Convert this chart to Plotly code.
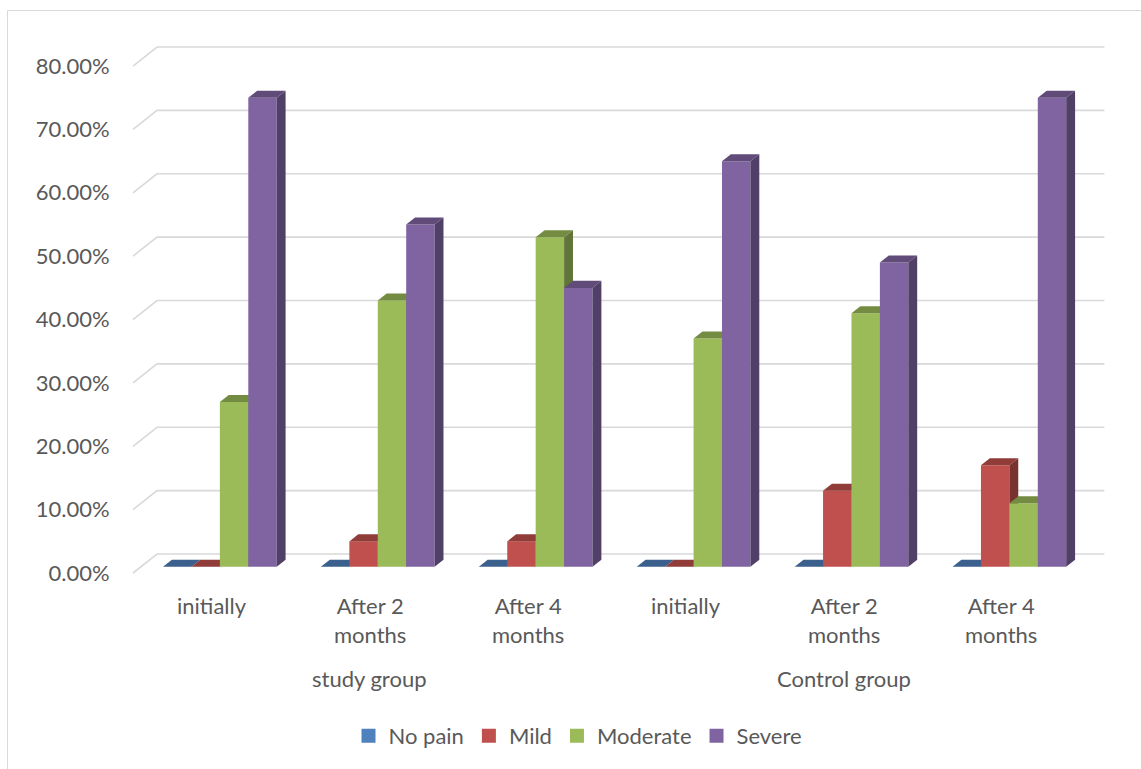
import plotly.graph_objects as go

# ---- data -------------------------------------------------------------
categories = ["initially", "After 2<br>months", "After 4<br>months",
              "initially", "After 2<br>months", "After 4<br>months"]
groups = ["study group", "Control group"]
group_centers = [1, 4]          # category index under which each group label sits
series_names = ["No pain", "Mild", "Moderate", "Severe"]
no_pain = [0, 0, 0, 0, 0, 0]
mild = [0, 4, 4, 0, 12, 16]
moderate = [26, 42, 52, 36, 40, 10]
severe = [74, 54, 44, 64, 48, 74]
series_values = [no_pain, mild, moderate, severe]
colors = ["#4F81BD", "#C0504D", "#9BBB59", "#8064A2"]
y_ticks = [0, 10, 20, 30, 40, 50, 60, 70, 80]
y_tick_labels = ["%.2f%%" % v for v in y_ticks]

# ---- page geometry ----------------------------------------------------
W, H = 1141, 769
ML, MR, MT, MB = 120, 30, 38, 180
ORIGIN_X, ORIGIN_Y = 133, 573        # front-left corner of the floor (px)
PX_PER_CAT = 157.9
PX_PER_PCT = 6.337
DEPTH_X = 24 / PX_PER_CAT            # oblique depth offset in category units
DEPTH_Y = 19 / PX_PER_PCT            # oblique depth offset in % units
BAR_W = 0.18
BAR_FRONT, BAR_BACK = 0.33, 0.70     # depth fractions occupied by the bars

x_range = [(ML - ORIGIN_X) / PX_PER_CAT, (W - MR - ORIGIN_X) / PX_PER_CAT]
y_range = [-((H - MB) - ORIGIN_Y) / PX_PER_PCT, (ORIGIN_Y - MT) / PX_PER_PCT]
plot_w = W - ML - MR
plot_h = H - MT - MB


def px_x(px):
    return (px - ML) / plot_w


def px_y(py):
    return (H - MB - py) / plot_h


def shade(hex_color, k):
    h = hex_color.lstrip("#")
    r, g, b = (int(h[i:i + 2], 16) for i in (0, 2, 4))
    return "#%02x%02x%02x" % (int(r * k), int(g * k), int(b * k))


def poly(points):
    return "M " + " L ".join("%.5f,%.5f" % p for p in points) + " Z"


TEXT = "#595959"
FONT = "Lato"
FS = 22

fig = go.Figure()

# back wall gridlines with their short diagonal floor edges
gx, gy = [], []
n_cat = len(categories)
for v in y_ticks:
    gx += [0, DEPTH_X, n_cat + DEPTH_X, None]
    gy += [v, v + DEPTH_Y, v + DEPTH_Y, None]
fig.add_trace(go.Scatter(x=gx, y=gy, mode="lines",
                         line=dict(color="#d9d9d9", width=1.6),
                         hoverinfo="skip", showlegend=False))

# legend entries
for name, col in zip(series_names, colors):
    fig.add_trace(go.Scatter(x=[None], y=[None], mode="markers", name=name,
                             marker=dict(symbol="square", size=14, color=col)))

# 3D columns: front face, top face, right side face, painted left to right
shapes = []
dx0, dy0 = DEPTH_X * BAR_FRONT, DEPTH_Y * BAR_FRONT
dx1, dy1 = DEPTH_X * BAR_BACK, DEPTH_Y * BAR_BACK
for c in range(n_cat):
    for s, vals in enumerate(series_values):
        v = vals[c]
        col = colors[s]
        xl = c + 0.5 - 2 * BAR_W + s * BAR_W + dx0
        xr = xl + BAR_W
        ddx, ddy = dx1 - dx0, dy1 - dy0
        front = [(xl, dy0), (xr, dy0), (xr, v + dy0), (xl, v + dy0)]
        top = [(xl, v + dy0), (xr, v + dy0), (xr + ddx, v + dy0 + ddy), (xl + ddx, v + dy0 + ddy)]
        side = [(xr, dy0), (xr + ddx, dy0 + ddy), (xr + ddx, v + dy0 + ddy), (xr, v + dy0)]
        for pts, k in ((front, 1.0), (top, 0.75), (side, 0.63)):
            shapes.append(dict(type="path", xref="x", yref="y", path=poly(pts),
                               fillcolor=shade(col, k), line=dict(width=0),
                               layer="above"))

# outer chart frame
shapes.append(dict(type="rect", xref="paper", yref="paper",
                   x0=px_x(7.5), x1=px_x(W + 5), y0=px_y(10.5), y1=px_y(H + 5),
                   line=dict(color="#d9d9d9", width=1), fillcolor="rgba(0,0,0,0)",
                   layer="below"))

annotations = []
for c, lab in enumerate(categories):
    annotations.append(dict(x=c + 0.5, xref="x", y=px_y(590), yref="paper",
                            text=lab, showarrow=False, xanchor="center", yanchor="top",
                            font=dict(family=FONT, size=FS, color=TEXT)))
for g, ci in zip(groups, group_centers):
    annotations.append(dict(x=ci + 0.5, xref="x", y=px_y(663), yref="paper",
                            text=g, showarrow=False, xanchor="center", yanchor="top",
                            font=dict(family=FONT, size=FS, color=TEXT)))

fig.update_layout(
    width=W, height=H,
    margin=dict(l=ML, r=MR, t=MT, b=MB, autoexpand=False),
    paper_bgcolor="white", plot_bgcolor="white",
    font=dict(family=FONT, size=FS, color=TEXT),
    xaxis=dict(range=x_range, showgrid=False, zeroline=False, showline=False,
               showticklabels=False, ticks=""),
    yaxis=dict(range=y_range, showgrid=False, zeroline=False, showline=False,
               tickvals=y_ticks, ticktext=y_tick_labels, ticks="outside",
               ticklen=5, tickcolor="rgba(0,0,0,0)",
               tickfont=dict(family=FONT, size=FS, color=TEXT)),
    shapes=shapes,
    annotations=annotations,
    showlegend=True,
    legend=dict(orientation="h", x=px_x(578), xanchor="center",
                y=px_y(736), yanchor="middle", itemwidth=30,
                font=dict(family=FONT, size=FS, color=TEXT),
                bgcolor="rgba(0,0,0,0)"),
)

fig.write_html("out.html")
